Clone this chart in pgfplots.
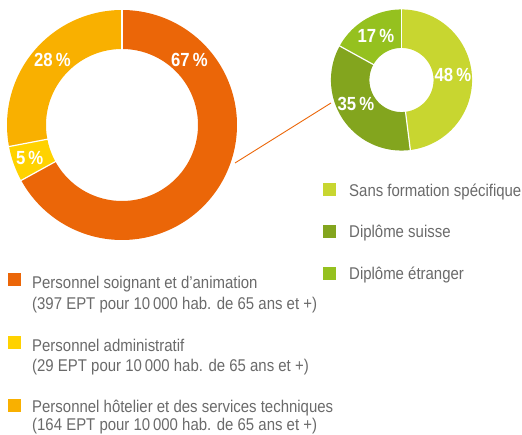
\documentclass[border=0pt]{standalone}
\usepackage{fontspec}
\setmainfont{Liberation Sans}[FakeStretch=0.88]
\usepackage{pgfplots}
\pgfplotsset{compat=1.18}
\definecolor{cOrange}{HTML}{EB6608}
\definecolor{cYellow}{HTML}{FFD200}
\definecolor{cAmber}{HTML}{F9B000}
\definecolor{gLight}{HTML}{C8D630}
\definecolor{gDark}{HTML}{83A51E}
\definecolor{gMid}{HTML}{95C11F}
\definecolor{txt}{HTML}{6A6A6A}
\newcommand\lfont{\fontsize{17}{21}\selectfont}
\newcommand\pfont{\fontsize{19}{19}\selectfont\bfseries}
\begin{document}
\begin{tikzpicture}
\useasboundingbox (0,0) rectangle (522pt,435pt);
\begin{axis}[at={(0,0)}, anchor=south west, scale only axis,
  width=522pt, height=435pt, xmin=0, xmax=522, ymin=0, ymax=435,
  enlargelimits=false, hide axis, clip=false]
% connector line
\addplot[cOrange, line width=0.9pt] coordinates {(235,272) (331,332)};
% ---- big donut: 67 / 5 / 28 (clockwise from top)
\addplot[draw=cOrange, line width=39pt, domain=90-3.6*67:90, samples=160] ({122+95.5*cos(x)},{310+95.5*sin(x)});
\addplot[draw=cYellow, line width=39pt, domain=90-3.6*72:90-3.6*67, samples=20] ({122+95.5*cos(x)},{310+95.5*sin(x)});
\addplot[draw=cAmber, line width=39pt, domain=90-3.6*100:90-3.6*72, samples=80] ({122+95.5*cos(x)},{310+95.5*sin(x)});
\addplot[white, line width=1.2pt, domain=75:116, samples=2] ({122+x*cos(90)},{310+x*sin(90)});
\addplot[white, line width=1.2pt, domain=75:116, samples=2] ({122+x*cos(90-3.6*67)},{310+x*sin(90-3.6*67)});
\addplot[white, line width=1.2pt, domain=75:116, samples=2] ({122+x*cos(90-3.6*72)},{310+x*sin(90-3.6*72)});
% ---- small donut: 48 / 35 / 17
\addplot[draw=gLight, line width=38.5pt, domain=90-3.6*48:90, samples=100] ({401.5+51.3*cos(x)},{355+51.3*sin(x)});
\addplot[draw=gDark, line width=38.5pt, domain=90-3.6*83:90-3.6*48, samples=80] ({401.5+51.3*cos(x)},{355+51.3*sin(x)});
\addplot[draw=gMid, line width=38.5pt, domain=90-3.6*100:90-3.6*83, samples=40] ({401.5+51.3*cos(x)},{355+51.3*sin(x)});
\addplot[white, line width=1.2pt, domain=31:71.5, samples=2] ({401.5+x*cos(90)},{355+x*sin(90)});
\addplot[white, line width=1.2pt, domain=31:71.5, samples=2] ({401.5+x*cos(90-3.6*48)},{355+x*sin(90-3.6*48)});
\addplot[white, line width=1.2pt, domain=31:71.5, samples=2] ({401.5+x*cos(90-3.6*83)},{355+x*sin(90-3.6*83)});
% ---- percentage labels
\node[text=white, font=\pfont, inner sep=0] at (axis cs:189.5,375) {67\,\%};
\node[text=white, font=\pfont, inner sep=0] at (axis cs:52.5,375) {28\,\%};
\node[text=white, font=\pfont, inner sep=0] at (axis cs:29.7,276.7) {5\,\%};
\node[text=white, font=\pfont, inner sep=0] at (axis cs:453,360) {48\,\%};
\node[text=white, font=\pfont, inner sep=0] at (axis cs:356,331.3) {35\,\%};
\node[text=white, font=\pfont, inner sep=0] at (axis cs:376,398.7) {17\,\%};
% ---- right legend
\node[fill=gLight, minimum width=13pt, minimum height=13pt, inner sep=0] at (axis cs:329.5,245.5) {};
\node[fill=gDark, minimum width=13pt, minimum height=13pt, inner sep=0] at (axis cs:329.5,203.5) {};
\node[fill=gMid, minimum width=13pt, minimum height=13pt, inner sep=0] at (axis cs:329.5,161.5) {};
\node[anchor=base west, inner sep=0, text=txt, font=\lfont] at (axis cs:349,238) {Sans formation spécifique};
\node[anchor=base west, inner sep=0, text=txt, font=\lfont] at (axis cs:349,197) {Diplôme suisse};
\node[anchor=base west, inner sep=0, text=txt, font=\lfont] at (axis cs:349,155) {Diplôme étranger};
% ---- left legend
\node[fill=cOrange, minimum width=13pt, minimum height=13pt, inner sep=0] at (axis cs:14,155.5) {};
\node[fill=cYellow, minimum width=13pt, minimum height=13pt, inner sep=0] at (axis cs:14,92) {};
\node[fill=cAmber, minimum width=13pt, minimum height=13pt, inner sep=0] at (axis cs:14,29) {};
\node[anchor=base west, inner sep=0, text=txt, font=\lfont] at (axis cs:32,146) {Personnel soignant et d’animation};
\node[anchor=base west, inner sep=0, text=txt, font=\lfont] at (axis cs:32,125) {(397 EPT pour 10\,000 hab. de 65 ans et +)};
\node[anchor=base west, inner sep=0, text=txt, font=\lfont] at (axis cs:32,83) {Personnel administratif};
\node[anchor=base west, inner sep=0, text=txt, font=\lfont] at (axis cs:32,63) {(29 EPT pour 10\,000 hab. de 65 ans et +)};
\node[anchor=base west, inner sep=0, text=txt, font=\lfont] at (axis cs:32,22.5) {Personnel hôtelier et des services techniques};
\node[anchor=base west, inner sep=0, text=txt, font=\lfont] at (axis cs:32,4) {(164 EPT pour 10\,000 hab. de 65 ans et +)};
\end{axis}
\end{tikzpicture}
\end{document}
